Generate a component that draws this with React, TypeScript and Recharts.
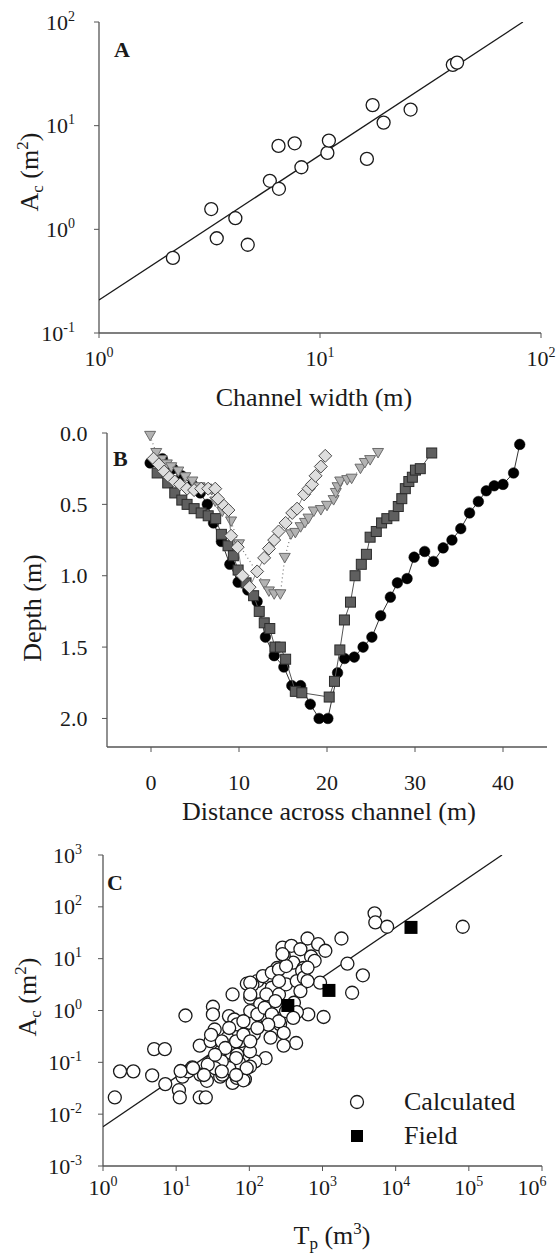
import React from 'react';
import { ScatterChart, Scatter, XAxis, YAxis, Legend } from 'recharts';

const SERIF = "'Liberation Serif', 'DejaVu Serif', serif";
const AX = '#555';
const INK = '#1a1a1a';

// ---- panel A: channel width vs cross-section area
const widthA = [2.16, 3.22, 3.41, 4.14, 4.71, 5.93, 6.52, 6.49, 7.68, 8.24, 10.8, 10.97, 16.3, 17.3, 19.4, 25.7, 39.9, 41.7];
const areaA = [0.53, 1.57, 0.82, 1.28, 0.71, 2.94, 2.46, 6.38, 6.76, 3.97, 5.46, 7.18, 4.78, 15.8, 10.7, 14.3, 38.6, 40.6];
const fitAx = [1, 82.8];
const fitAy = [0.208, 100];

// ---- panel B: channel cross-section profiles
const circX = [-0.1, 1.3, 2.5, 3.5, 4.7, 5.6, 6.4, 7.1, 8.0, 8.96, 9.9, 11.0, 12.06, 13.0, 14.0, 15.1, 16.0, 17.0, 18.1, 19.1, 20.1, 21.2, 22.0, 23.1, 24.1, 25.1, 26.1, 27.2, 28.0, 29.1, 29.9, 31.1, 32.1, 33.2, 34.2, 35.2, 36.2, 37.2, 38.1, 39.0, 40.0, 41.2, 41.9];
const circY = [0.21, 0.18, 0.25, 0.30, 0.36, 0.42, 0.50, 0.63, 0.76, 0.92, 1.045, 1.10, 1.18, 1.43, 1.56, 1.64, 1.77, 1.77, 1.90, 2.0, 2.0, 1.68, 1.58, 1.57, 1.50, 1.43, 1.28, 1.15, 1.05, 1.02, 0.87, 0.83, 0.90, 0.805, 0.75, 0.67, 0.56, 0.48, 0.405, 0.37, 0.36, 0.28, 0.08];

const sqX = [0.7, 1.9, 2.7, 3.5, 4.1, 4.9, 5.7, 6.5, 7.35, 8.0, 8.75, 9.36, 9.9, 10.8, 11.66, 12.3, 12.87, 13.5, 14.08, 14.7, 15.3, 16.4, 17.14, 20.25, 20.85, 21.46, 21.98, 22.67, 23.19, 23.9, 24.48, 24.9, 25.6, 26.2, 26.8, 27.6, 28.1, 28.5, 28.9, 29.3, 29.7, 30.05, 30.6, 31.9];
const sqY = [0.28, 0.35, 0.42, 0.47, 0.50, 0.53, 0.56, 0.58, 0.60, 0.71, 0.79, 0.86, 0.96, 1.05, 1.14, 1.25, 1.33, 1.37, 1.50, 1.50, 1.585, 1.81, 1.82, 1.85, 1.74, 1.52, 1.31, 1.185, 1.0, 0.92, 0.85, 0.73, 0.69, 0.63, 0.60, 0.58, 0.515, 0.46, 0.39, 0.34, 0.31, 0.26, 0.25, 0.14];

const diaX = [0.29, 0.89, 1.5, 2.1, 2.7, 3.3, 4.1, 4.9, 5.7, 6.5, 7.3, 7.6, 8.3, 8.8, 9.1, 9.85, 10.4, 11.2, 12.06, 12.86, 13.4, 14.0, 14.5, 15.3, 16.05, 16.6, 17.4, 17.9, 18.3, 18.7, 19.3, 19.8];
const diaY = [0.18, 0.22, 0.27, 0.31, 0.34, 0.36, 0.39, 0.40, 0.39, 0.39, 0.39, 0.46, 0.51, 0.54, 0.72, 0.80, 1.0, 1.08, 0.97, 0.875, 0.81, 0.75, 0.69, 0.63, 0.56, 0.53, 0.43, 0.39, 0.36, 0.30, 0.235, 0.16];

const triX = [-0.1, 0.6, 1.2, 1.8, 2.3, 3.1, 3.9, 4.7, 5.5, 6.3, 6.9, 7.3, 8.1, 9.1, 10.0, 12.9, 13.4, 14.0, 14.7, 15.2, 15.9, 16.4, 17.0, 17.5, 17.9, 18.5, 19.3, 20.0, 20.75, 21.0, 21.2, 21.5, 22.3, 22.8, 23.8, 24.3, 24.9, 25.8];
const triY = [0.02, 0.14, 0.19, 0.22, 0.24, 0.27, 0.31, 0.34, 0.38, 0.39, 0.40, 0.48, 0.55, 0.62, 0.78, 1.06, 1.11, 1.13, 1.13, 0.875, 0.71, 0.70, 0.66, 0.63, 0.60, 0.55, 0.54, 0.51, 0.47, 0.42, 0.38, 0.34, 0.33, 0.32, 0.25, 0.21, 0.19, 0.14];

// ---- panel C: tidal prism vs area
const calcX = [1.45, 1.71, 2.6, 4.7, 5.0, 7.0, 7.1, 10.9, 11.2, 12.2, 13.4, 14.5, 16.6, 21, 25.4, 21, 31.8, 31.8, 33.6, 59, 52.7, 62.4, 103, 92.5, 181, 284, 398, 624, 698, 871, 1094, 925, 1035, 638, 436, 294, 167, 120, 1815, 2190, 2540, 3560, 5150, 5270, 7640, 82600, 87, 59, 40, 26.3,
  295, 240, 550, 500, 129, 110, 214, 141, 240, 407, 447, 68, 102, 174, 263, 115, 195, 295, 29.5, 50, 76, 40.7, 68, 102, 31, 46.8, 72.4, 102, 21.4, 11.5, 42.7, 67.6, 83,
  103, 153, 203, 254, 318, 203, 254, 318, 445, 527, 557, 781, 376, 499, 103, 129, 162, 203, 254, 318, 398, 181, 42, 47, 66, 83, 103, 129, 66, 92, 53, 42, 34, 27, 24, 42, 66, 17, 34, 53, 83, 30, 103, 171, 227, 254, 284, 624, 499, 624];
const calcY = [0.021, 0.067, 0.067, 0.056, 0.18, 0.18, 0.038, 0.029, 0.021, 0.053, 0.80, 0.067, 0.080, 0.021, 0.021, 0.21, 1.18, 0.84, 0.43, 2.04, 0.78, 0.67, 1.76, 3.29, 4.3, 16.4, 8.4, 24.5, 11, 19, 14.2, 3.44, 0.75, 0.84, 0.236, 0.21, 0.121, 0.104, 24.5, 8.0, 2.2, 4.78, 75, 50, 41.3, 41.3, 0.047, 0.040, 0.053, 0.044,
  11.5, 6.6, 6.6, 3.7, 3.7, 3.16, 2.75, 1.32, 1.2, 1.41, 0.93, 0.54, 0.575, 0.72, 0.54, 0.35, 0.30, 0.37, 0.257, 0.295, 0.257, 0.162, 0.141, 0.162, 0.105, 0.091, 0.098, 0.083, 0.058, 0.068, 0.058, 0.050, 0.045,
  3.44, 4.6, 5.4, 6.2, 7.2, 2.75, 2.04, 3.2, 3.7, 5.8, 4.3, 9.1, 17.7, 15.2, 0.97, 0.84, 1.13, 0.84, 0.62, 0.97, 0.72, 0.535, 0.254, 0.189, 0.254, 0.343, 0.254, 0.46, 0.121, 0.077, 0.077, 0.104, 0.077, 0.09, 0.057, 0.067, 0.057, 0.077, 0.14, 0.46, 0.62, 0.34, 2.04, 2.04, 1.52, 3.7, 12.2, 6.7, 2.37, 3.7];
const fieldX = [336, 1225, 16200];
const fieldY = [1.25, 2.44, 40.1];
const fitCx = [1, 284000];
const fitCy = [0.0057, 1000];

const pts = (xs: number[], ys: number[]) => xs.map((x, i) => ({ x, y: ys[i] }));

const openCircle = (r: number) => (p: any) => (
  <circle cx={p.cx} cy={p.cy} r={r} fill="#fff" stroke={INK} strokeWidth={1.3} />
);
const blackDot = (p: any) => <circle cx={p.cx} cy={p.cy} r={5.3} fill="#000" stroke="#000" strokeWidth={0.5} />;
const graySquare = (p: any) => (
  <rect x={p.cx - 5} y={p.cy - 5} width={10} height={10} fill="#5f5f5f" stroke="#2b2b2b" strokeWidth={1} />
);
const blackSquare = (p: any) => <rect x={p.cx - 6.5} y={p.cy - 6.5} width={13} height={13} fill="#000" />;
const lightDiamond = (p: any) => (
  <path
    d={`M${p.cx},${p.cy - 6.5}L${p.cx + 6.5},${p.cy}L${p.cx},${p.cy + 6.5}L${p.cx - 6.5},${p.cy}Z`}
    fill="#dedede" stroke="#4a4a4a" strokeWidth={1}
  />
);
const grayTriangle = (p: any) => (
  <path
    d={`M${p.cx - 5.5},${p.cy - 4.5}L${p.cx + 5.5},${p.cy - 4.5}L${p.cx},${p.cy + 5}Z`}
    fill="#b3b3b3" stroke="#6a6a6a" strokeWidth={1}
  />
);
const noDot = () => <g />;

const exp10 = (v: number) => Math.round(Math.log10(v));
const txt = { fontFamily: SERIF };

const makeXLogTick = (dy: number) => (p: any) => (
  <text x={p.x} y={p.y + dy} textAnchor="middle" style={txt} fontSize={22} fill={INK}>
    10<tspan dy={-9} fontSize={14}>{exp10(p.payload.value)}</tspan>
  </text>
);
const makeYLogTick = (dx: number) => (p: any) => (
  <text x={p.x - dx} y={p.y + 7.5} textAnchor="end" style={txt} fontSize={22} fill={INK}>
    10<tspan dy={-9} fontSize={14}>{exp10(p.payload.value)}</tspan>
  </text>
);
const xLinTick = (p: any) => (
  <text x={p.x} y={p.y + 36} textAnchor="middle" style={txt} fontSize={22} fill={INK}>
    {p.payload.value}
  </text>
);
const yLinTick = (p: any) => (
  <text x={p.x - 12.5} y={p.y + 7.5} textAnchor="end" style={txt} fontSize={22} fill={INK}>
    {Number(p.payload.value).toFixed(1)}
  </text>
);

const axisLine = { stroke: AX, strokeWidth: 1.3 };

// top / right frame lines
const frame = [
  <XAxis key="ft" xAxisId="top" orientation="top" type="number" domain={[0, 1]} height={0} tick={false} tickLine={false} axisLine={axisLine} />,
  <YAxis key="fr" yAxisId="right" orientation="right" type="number" domain={[0, 1]} width={0} tick={false} tickLine={false} axisLine={axisLine} />,
];

const legendContent = () => (
  <div style={{ fontFamily: SERIF, fontSize: 26, color: INK, lineHeight: '34px' }}>
    <div style={{ display: 'flex', alignItems: 'center' }}>
      <svg width={16} height={16}><circle cx={8} cy={8} r={6.5} fill="#fff" stroke={INK} strokeWidth={1.3} /></svg>
      <span style={{ marginLeft: 39 }}>Calculated</span>
    </div>
    <div style={{ display: 'flex', alignItems: 'center' }}>
      <svg width={16} height={16}><rect x={2} y={2} width={12} height={12} fill="#000" /></svg>
      <span style={{ marginLeft: 39 }}>Field</span>
    </div>
  </div>
);

export default function App() {
  return (
    <div style={{ position: 'absolute', left: 0, top: 0, width: 560, height: 1257, background: '#fff', fontFamily: SERIF }}>
      {/* A */}
      <div style={{ position: 'absolute', left: 0, top: 0 }}>
        <ScatterChart width={560} height={420} margin={{ top: 22, right: 19, bottom: 47, left: 39 }}>
          <XAxis type="number" dataKey="x" scale="log" domain={[1, 100]} ticks={[1, 10, 100]} allowDataOverflow
            height={40} tickSize={5} axisLine={axisLine} tickLine={{ stroke: AX }} tick={makeXLogTick(26)} />
          <YAxis type="number" dataKey="y" scale="log" domain={[0.1, 100]} ticks={[0.1, 1, 10, 100]} allowDataOverflow
            width={60} tickSize={5} axisLine={axisLine} tickLine={{ stroke: AX }} tick={makeYLogTick(17)} />
          {frame}
          <Scatter data={pts(fitAx, fitAy)} line={{ stroke: INK, strokeWidth: 1.3 }} shape={noDot} isAnimationActive={false} />
          <Scatter data={pts(widthA, areaA)} shape={openCircle(6.5)} isAnimationActive={false} />
        </ScatterChart>
      </div>

      {/* B */}
      <div style={{ position: 'absolute', left: 0, top: 420 }}>
        <ScatterChart width={560} height={410} margin={{ top: 13, right: 13, bottom: 43, left: 47 }}>
          <XAxis type="number" dataKey="x" domain={[-5, 45]} ticks={[0, 10, 20, 30, 40]}
            height={40} tickSize={5} axisLine={axisLine} tickLine={{ stroke: AX }} tick={xLinTick} />
          <YAxis type="number" dataKey="y" reversed domain={[0, 2.2]} ticks={[0, 0.5, 1, 1.5, 2]}
            width={60} tickSize={5} axisLine={axisLine} tickLine={{ stroke: AX }} tick={yLinTick} />
          {frame}
          <Scatter data={pts(circX, circY)} line={{ stroke: '#333', strokeWidth: 1 }} shape={blackDot} isAnimationActive={false} />
          <Scatter data={pts(sqX, sqY)} line={{ stroke: '#555', strokeWidth: 1 }} shape={graySquare} isAnimationActive={false} />
          <Scatter data={pts(triX, triY)} line={{ stroke: '#777', strokeWidth: 1.2, strokeDasharray: '1 3' }} shape={grayTriangle} isAnimationActive={false} />
          <Scatter data={pts(diaX, diaY)} line={{ stroke: '#666', strokeWidth: 0.8 }} shape={lightDiamond} isAnimationActive={false} />
        </ScatterChart>
      </div>

      {/* C */}
      <div style={{ position: 'absolute', left: 0, top: 830 }}>
        <ScatterChart width={560} height={427} margin={{ top: 25, right: 18, bottom: 51, left: 43 }}>
          <XAxis type="number" dataKey="x" scale="log" domain={[1, 1e6]} ticks={[1, 10, 100, 1e3, 1e4, 1e5, 1e6]} allowDataOverflow
            height={40} tickSize={5} axisLine={axisLine} tickLine={{ stroke: AX }} tick={makeXLogTick(22)} />
          <YAxis type="number" dataKey="y" scale="log" domain={[0.001, 1000]} ticks={[0.001, 0.01, 0.1, 1, 10, 100, 1000]} allowDataOverflow
            width={60} tickSize={5} axisLine={axisLine} tickLine={{ stroke: AX }} tick={makeYLogTick(14)} />
          {frame}
          <Scatter data={pts(fitCx, fitCy)} line={{ stroke: INK, strokeWidth: 1.3 }} shape={noDot} isAnimationActive={false} />
          <Scatter name="Calculated" data={pts(calcX, calcY)} shape={openCircle(6.5)} isAnimationActive={false} />
          <Scatter name="Field" data={pts(fieldX, fieldY)} shape={blackSquare} isAnimationActive={false} />
          <Legend layout="vertical" align="center" verticalAlign="middle" content={legendContent}
            wrapperStyle={{ position: 'absolute', left: 349, top: 255, width: 'auto' }} />
        </ScatterChart>
      </div>

      {/* titles and panel letters */}
      <svg width={560} height={1257} style={{ position: 'absolute', left: 0, top: 0, pointerEvents: 'none', fontFamily: SERIF }}>
        <g fill={INK}>
          <text x={114} y={57} fontSize={22} fontWeight="bold">A</text>
          <text x={113} y={466} fontSize={22} fontWeight="bold">B</text>
          <text x={107} y={890} fontSize={22} fontWeight="bold">C</text>

          <text x={38} y={172} transform="rotate(-90 38 172)" textAnchor="middle" fontSize={26}>
            A<tspan fontSize={17} dy={5}>c</tspan><tspan dy={-5}> (m</tspan><tspan fontSize={17} dy={-10}>2</tspan><tspan dy={10}>)</tspan>
          </text>
          <text x={314} y={406} textAnchor="middle" fontSize={26}>Channel width (m)</text>

          <text x={41} y={608} transform="rotate(-90 41 608)" textAnchor="middle" fontSize={26}>Depth (m)</text>
          <text x={329} y={820} textAnchor="middle" fontSize={26}>Distance across channel (m)</text>

          <text x={36} y={997} transform="rotate(-90 36 997)" textAnchor="middle" fontSize={26}>
            A<tspan fontSize={17} dy={5}>c</tspan><tspan dy={-5}> (m</tspan><tspan fontSize={17} dy={-10}>2</tspan><tspan dy={10}>)</tspan>
          </text>
          <text x={332} y={1244} textAnchor="middle" fontSize={26}>
            T<tspan fontSize={17} dy={5}>p</tspan><tspan dy={-5}> (m</tspan><tspan fontSize={17} dy={-10}>3</tspan><tspan dy={10}>)</tspan>
          </text>
        </g>
      </svg>
    </div>
  );
}
